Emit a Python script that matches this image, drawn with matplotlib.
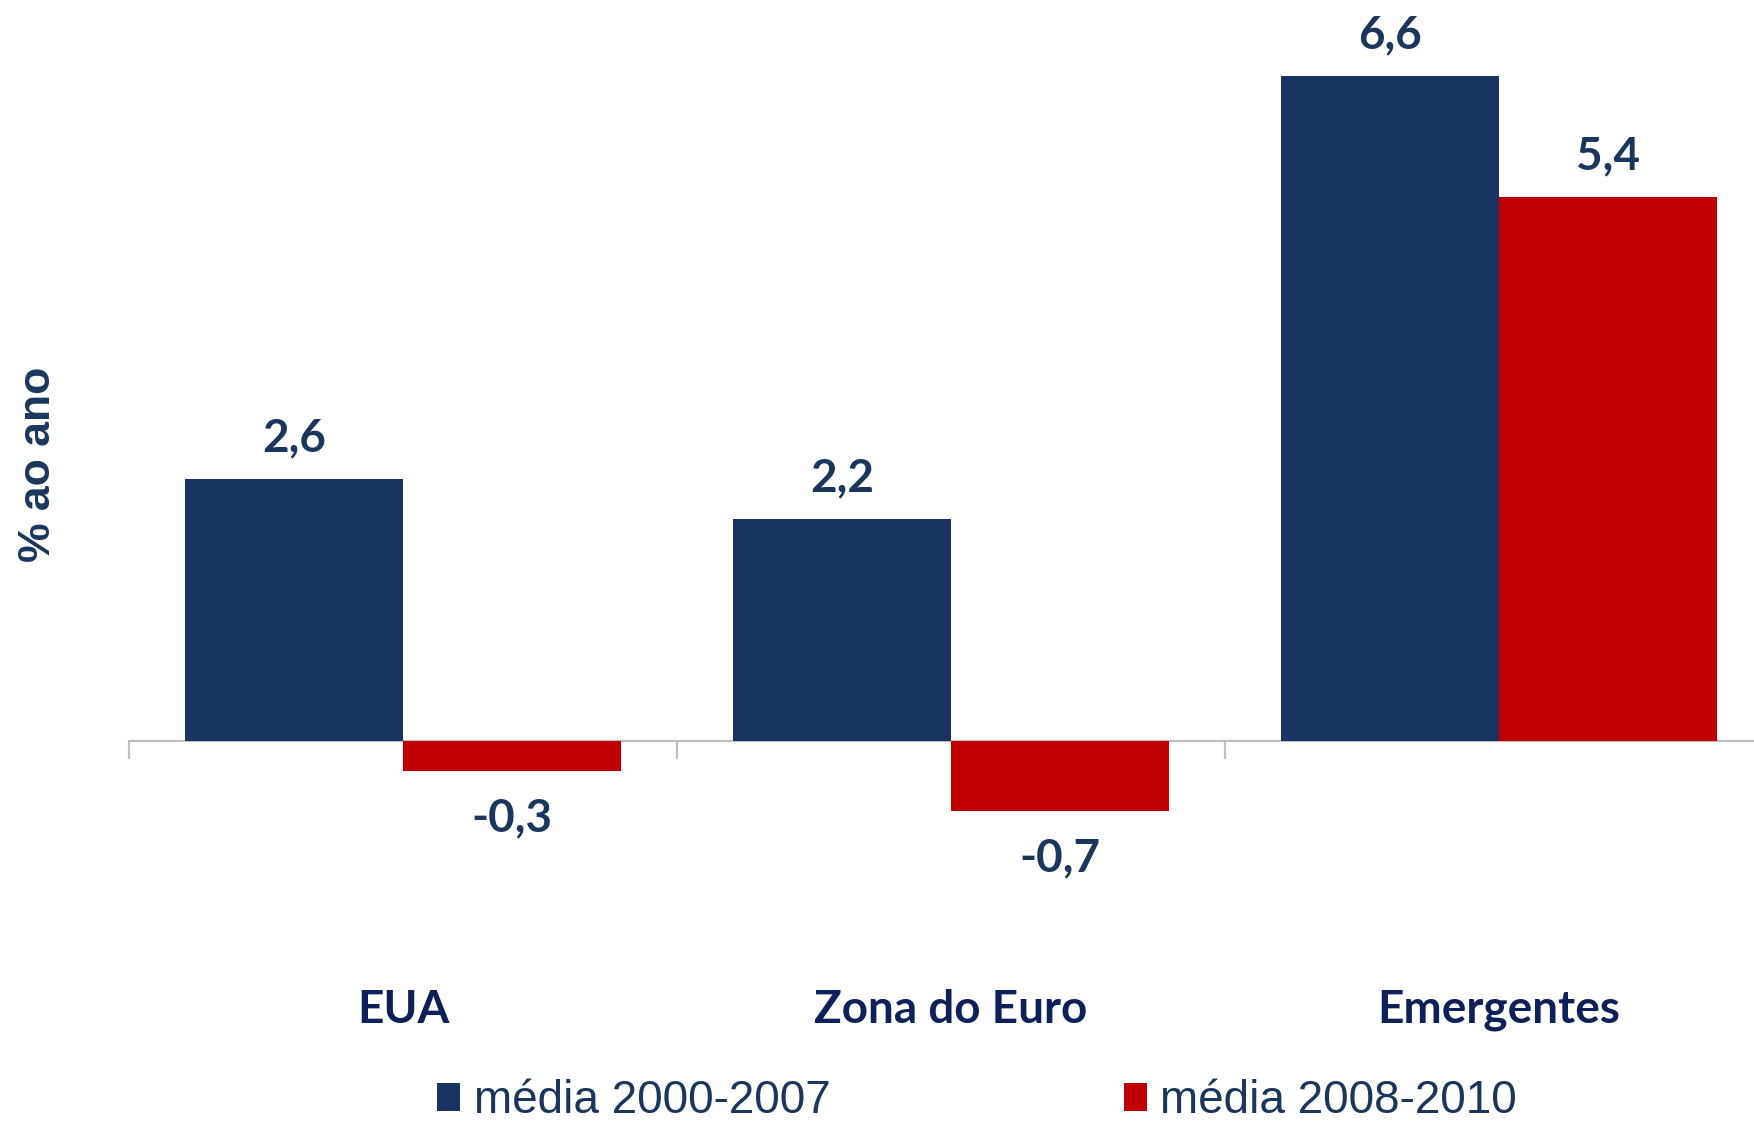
import matplotlib
matplotlib.use("Agg")
import matplotlib.pyplot as plt
import matplotlib.transforms as mtransforms
from matplotlib.patches import Patch
import numpy as np

categories = ["EUA", "Zona do Euro", "Emergentes"]
series_names = ["média 2000-2007", "média 2008-2010"]
media_2000_2007 = [2.6, 2.2, 6.6]
media_2008_2010 = [-0.3, -0.7, 5.4]
colors = ["#1A3461", "#C00000"]
label_color = "#1B365D"
cat_color = "#0E2059"

W, H, DPI = 1754, 1123, 100
fig = plt.figure(figsize=(W / DPI, H / DPI), dpi=DPI)
ax = fig.add_axes([129 / W, 1 - 841.2 / H, 1644 / W, (841.2 - 35.6) / H])

x = np.arange(len(categories))
bw = 0.398
b1 = ax.bar(x - bw / 2, media_2000_2007, bw, color=colors[0], zorder=2)
b2 = ax.bar(x + bw / 2, media_2008_2010, bw, color=colors[1], zorder=2)

ax.set_xlim(-0.5, 2.5)
ax.set_ylim(-1.0, 7.0)

for s in ["top", "right", "left", "bottom"]:
    ax.spines[s].set_visible(False)
ax.axhline(0, color="#BFBFBF", lw=1.6, zorder=1)
ax.set_yticks([])
ax.set_xticks([])
for t in np.arange(-0.5, 2.6, 1.0):
    ax.plot([t, t], [0, -0.17], color="#BFBFBF", lw=1.6, clip_on=False, zorder=1)

def fmt(v):
    return f"{v:.1f}".replace(".", ",")

for bars, vals in ((b1, media_2000_2007), (b2, media_2008_2010)):
    for rect, v in zip(bars, vals):
        cx = rect.get_x() + rect.get_width() / 2
        off = 29 if v >= 0 else -34
        ax.annotate(fmt(v), xy=(cx, v), xytext=(0, off), textcoords="offset points",
                    ha="center", va="center", fontsize=33, fontweight="bold",
                    family="Lato", color=label_color, annotation_clip=False)

cat_tr = mtransforms.blended_transform_factory(ax.transData, fig.transFigure)
for xi, c in zip(x, categories):
    ax.text(xi, 1 - 1010 / H, c, transform=cat_tr, ha="center", va="center",
            fontsize=33, fontweight="bold", family="Lato", color=cat_color, clip_on=False)

fig.text(39 / W, 1 - 464 / H, "% ao ano", rotation=90, ha="center", va="center",
         fontsize=32, fontweight="bold", family="Liberation Sans", color=label_color)

handles = [Patch(facecolor=colors[0]), Patch(facecolor=colors[1])]
leg = fig.legend(handles, series_names, loc="center", bbox_to_anchor=(977 / W, 1 - 1101 / H),
                 ncol=2, frameon=False, handlelength=0.5, handleheight=0.55,
                 handletextpad=0.3, columnspacing=6.4, borderpad=0.2,
                 prop={"family": "Liberation Sans", "size": 33})
for t in leg.get_texts():
    t.set_color(label_color)

fig.savefig("out.png", dpi=DPI, facecolor="white")
